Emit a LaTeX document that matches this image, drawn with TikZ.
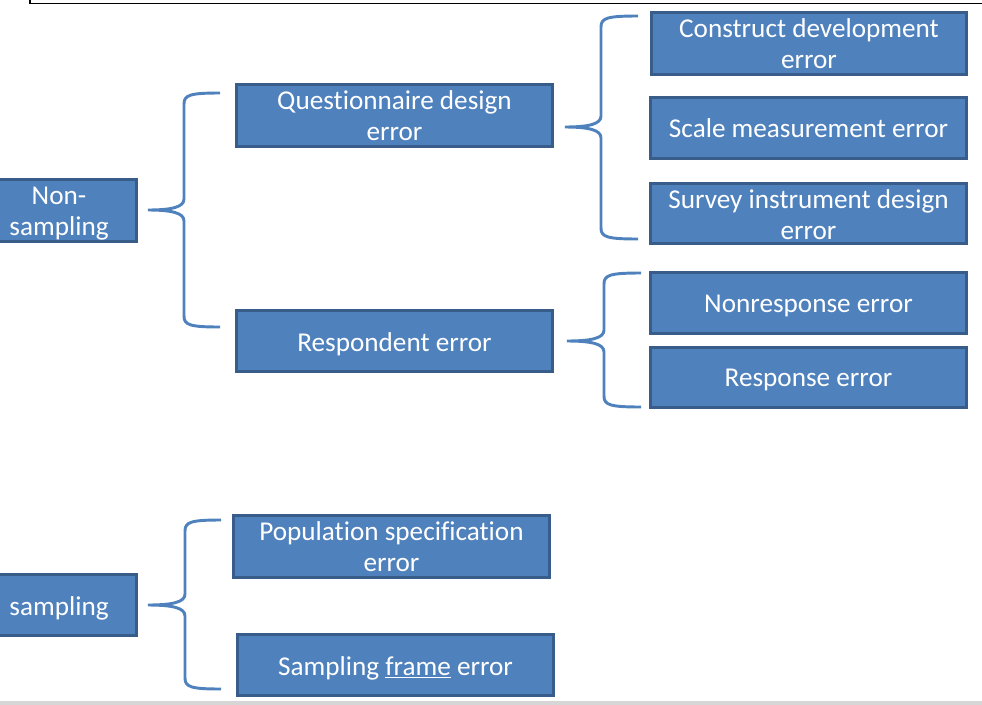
\documentclass[tikz,border=0pt]{standalone}
\usepackage{fontspec}
\setmainfont{Carlito}[RawFeature={-liga;-clig;-calt}]
\definecolor{boxfill}{HTML}{4F81BD}
\definecolor{boxline}{HTML}{385D8A}
\definecolor{bracecol}{HTML}{4F81BD}
\definecolor{bandgray}{HTML}{D6D6D6}
% box: name, x0, y0, x1, y1, text shift down (px), text  (pixel coordinates)
\newcommand\errbox[7]{%
  \node[ebox, minimum width={(#4-#2-2.7)*0.75pt}, minimum height={(#5-#3-2.7)*0.75pt},
    label={[etext, yshift={-#6*0.75pt}]center:{#7}}]
    (#1) at ({(#2+#4)/2},{(#3+#5)/2}) {};}
% brace: xtip, ymid, xvert, ytop, ybot, xend
\newcommand\wordbrace[6]{%
  \draw[wbrace] (#6,#4) .. controls ({#3+6},#4) and (#3,{#4+2}) .. (#3,{#4+11})
    -- (#3,{#2-11}) .. controls (#3,{#2-3}) and ({#3-12},#2) .. (#1,#2)
    .. controls ({#3-12},#2) and (#3,{#2+3}) .. (#3,{#2+11})
    -- (#3,{#5-11}) .. controls (#3,{#5-2}) and ({#3+6},#5) .. (#6,#5);}
\begin{document}
\begin{tikzpicture}[x=0.75pt,y=-0.75pt,
  ebox/.style={draw=boxline, line width=2pt, fill=boxfill, inner sep=0pt},
  etext/.style={text=white, align=center, inner sep=0pt,
    font=\fontsize{20.4}{23.4}\selectfont},
  wbrace/.style={draw=bracecol, line width=2.2pt}]
\useasboundingbox (0,0) rectangle (982,704);
% page frame fragments
\draw[black, line width=1pt] (30,-5) -- (30,3.5) -- (990,3.5);
\fill[bandgray] (-5,701) rectangle (990,712);
% boxes
\errbox{ns}{-20}{178}{138}{243}{3}{Non-\\sampling}
\errbox{qd}{235}{83}{554}{148}{0}{Questionnaire design\\error}
\errbox{re}{235}{309}{554}{373}{3}{Respondent error}
\errbox{cd}{650}{11}{968}{76}{0}{Construct development\\error}
\errbox{sm}{649}{96}{968}{160}{0.5}{Scale measurement error}
\errbox{si}{649}{182}{968}{245}{1}{Survey instrument design\\error}
\errbox{nr}{649}{271}{968}{335}{3}{Nonresponse error}
\errbox{rs}{649}{346}{968}{409}{2}{Response error}
\errbox{sa}{-20}{573}{138}{637}{3}{sampling}
\errbox{ps}{232}{514}{551}{579}{0}{Population specification\\error}
\errbox{sf}{236}{633}{555}{697}{3}{Sampling \underline{frame} error}
% braces
\wordbrace{148}{210}{184}{93}{327}{220}
\wordbrace{565}{127}{601}{16}{239}{638}
\wordbrace{567}{341}{604}{273}{407}{641}
\wordbrace{148}{605}{185}{520}{689}{221}
\end{tikzpicture}
\end{document}
